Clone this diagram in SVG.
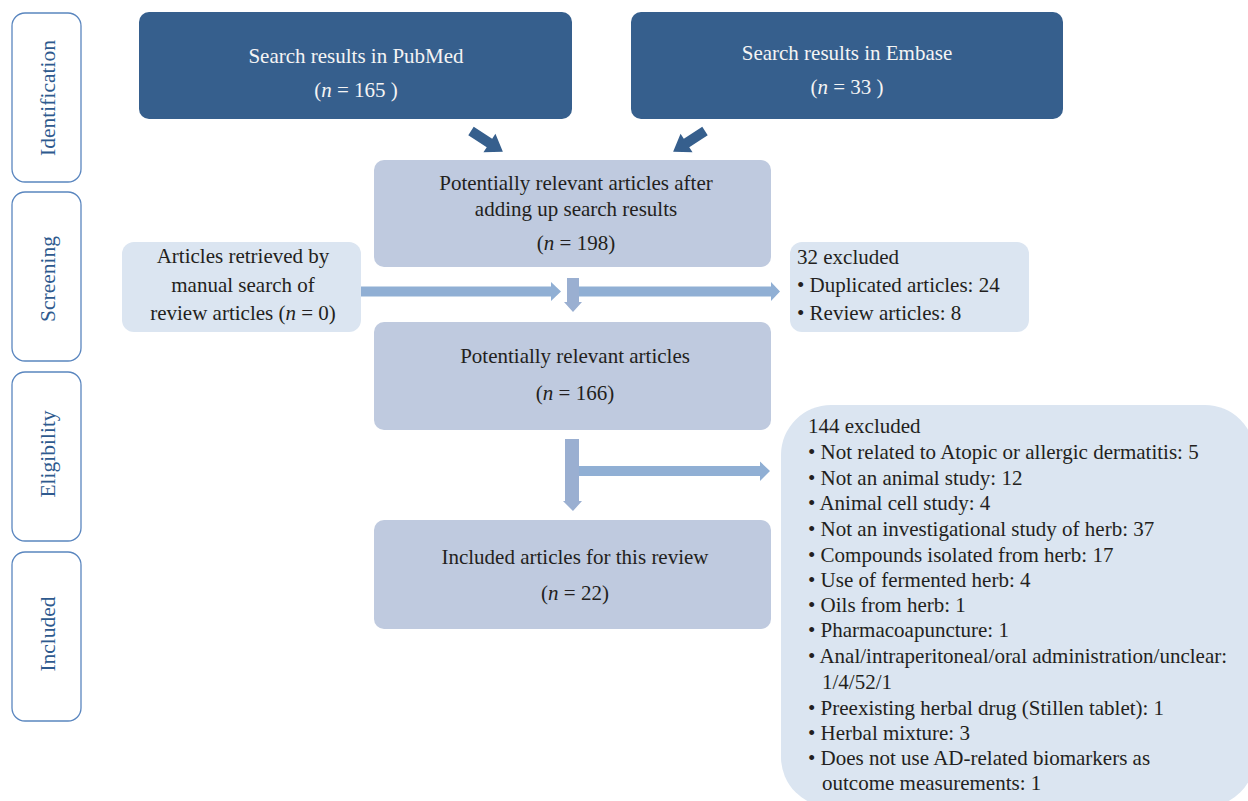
<svg xmlns="http://www.w3.org/2000/svg" width="1248" height="801" viewBox="0 0 1248 801">
<style>
text{font-family:"Liberation Serif","Times New Roman",serif;font-size:21px;fill:#231f20}
.c{text-anchor:middle}
.w{fill:#f4f4f4}
.tab{fill:#ffffff;stroke:#5a86bf;stroke-width:1.3}
.tabt{fill:#2e5a8e;text-anchor:middle;font-size:21.5px}
.dark{fill:#365f8d}
.mid{fill:#bfcadf}
.light{fill:#dbe5f1}
.la{fill:#90afd4}
.lv{fill:#9aafd1}
</style>
<rect width="1248" height="801" fill="#ffffff"/>
<g id="tab-identification"><rect class="tab" x="12" y="13" width="69" height="169" rx="13"/><text class="tabt" transform="translate(55,98) rotate(-90)">Identification</text></g>
<g id="tab-screening"><rect class="tab" x="12" y="192" width="69" height="169" rx="13"/><text class="tabt" transform="translate(55,279) rotate(-90)">Screening</text></g>
<g id="tab-eligibility"><rect class="tab" x="12" y="372" width="69" height="169" rx="13"/><text class="tabt" transform="translate(55,454) rotate(-90)">Eligibility</text></g>
<g id="tab-included"><rect class="tab" x="12" y="552" width="69" height="169" rx="13"/><text class="tabt" transform="translate(55,634) rotate(-90)">Included</text></g>

<g id="pubmed"><rect class="dark" x="139" y="12" width="433" height="107" rx="10"/><text class="c w" x="356" y="63">Search results in PubMed</text><text class="c w" x="356" y="97">(<tspan font-style="italic" class="w">n</tspan> = 165 )</text></g>
<g id="embase"><rect class="dark" x="631" y="12" width="432" height="107" rx="10"/><text class="c w" x="847" y="60">Search results in Embase</text><text class="c w" x="847" y="94">(<tspan font-style="italic" class="w">n</tspan> = 33 )</text></g>

<g id="combined"><rect class="mid" x="374" y="160" width="397" height="107" rx="10"/><text class="c" x="576" y="190">Potentially relevant articles after</text><text class="c" x="576" y="216">adding up search results</text><text class="c" x="576" y="250">(<tspan font-style="italic">n</tspan> = 198)</text></g>
<g id="manual"><rect class="light" x="122" y="242" width="239" height="90" rx="12"/><text class="c" x="243" y="263">Articles retrieved by</text><text class="c" x="243" y="292">manual search of</text><text class="c" x="243" y="320">review articles (<tspan font-style="italic">n</tspan> = 0)</text></g>
<g id="excluded32"><rect class="light" x="790" y="242" width="239" height="90" rx="12"/><text x="797" y="264">32 excluded</text><text x="797" y="292">• Duplicated articles: 24</text><text x="797" y="320">• Review articles: 8</text></g>
<g id="relevant"><rect class="mid" x="374" y="322" width="397" height="108" rx="10"/><text class="c" x="575" y="363">Potentially relevant articles</text><text class="c" x="575" y="400">(<tspan font-style="italic">n</tspan> = 166)</text></g>
<g id="included"><rect class="mid" x="374" y="520" width="397" height="109" rx="10"/><text class="c" x="575" y="564">Included articles for this review</text><text class="c" x="575" y="600">(<tspan font-style="italic">n</tspan> = 22)</text></g>
<g id="excluded144"><rect class="light" x="781" y="405" width="474" height="402" rx="50"/>
<text x="808" y="433">144 excluded</text>
<text x="808" y="459">• Not related to Atopic or allergic dermatitis: 5</text>
<text x="808" y="485">• Not an animal study: 12</text>
<text x="808" y="510">• Animal cell study: 4</text>
<text x="808" y="536">• Not an investigational study of herb: 37</text>
<text x="808" y="562">• Compounds isolated from herb: 17</text>
<text x="808" y="587">• Use of fermented herb: 4</text>
<text x="808" y="612">• Oils from herb: 1</text>
<text x="808" y="637">• Pharmacoapuncture: 1</text>
<text x="808" y="663">• Anal/intraperitoneal/oral administration/unclear:</text>
<text x="822" y="689">1/4/52/1</text>
<text x="808" y="715">• Preexisting herbal drug (Stillen tablet): 1</text>
<text x="808" y="740">• Herbal mixture: 3</text>
<text x="808" y="765">• Does not use AD-related biomarkers as</text>
<text x="822" y="790">outcome measurements: 1</text>
</g>

<g id="connectors">
<polygon class="dark" transform="translate(471,131) rotate(33)" points="0,-5 22,-5 22,-11 38,0 22,11 22,5 0,5"/>
<polygon class="dark" transform="translate(705,131) rotate(147)" points="0,-5 22,-5 22,-11 38,0 22,11 22,5 0,5"/>
<polygon class="la" points="361,286.5 551,286.5 551,282 561,291.5 551,301 551,296.5 361,296.5"/>
<polygon class="lv" points="567,278 579,278 579,302 582,302 573,312 564,302 567,302"/>
<polygon class="la" points="579,286.5 771,286.5 771,282 780,291.5 771,301 771,296.5 579,296.5"/>
<polygon class="lv" points="565,439 579,439 579,501 582,501 573,511 563,501 565,501"/>
<polygon class="la" points="579,466 760,466 760,461.5 770,471 760,481 760,476 579,476"/>
</g>
</svg>
